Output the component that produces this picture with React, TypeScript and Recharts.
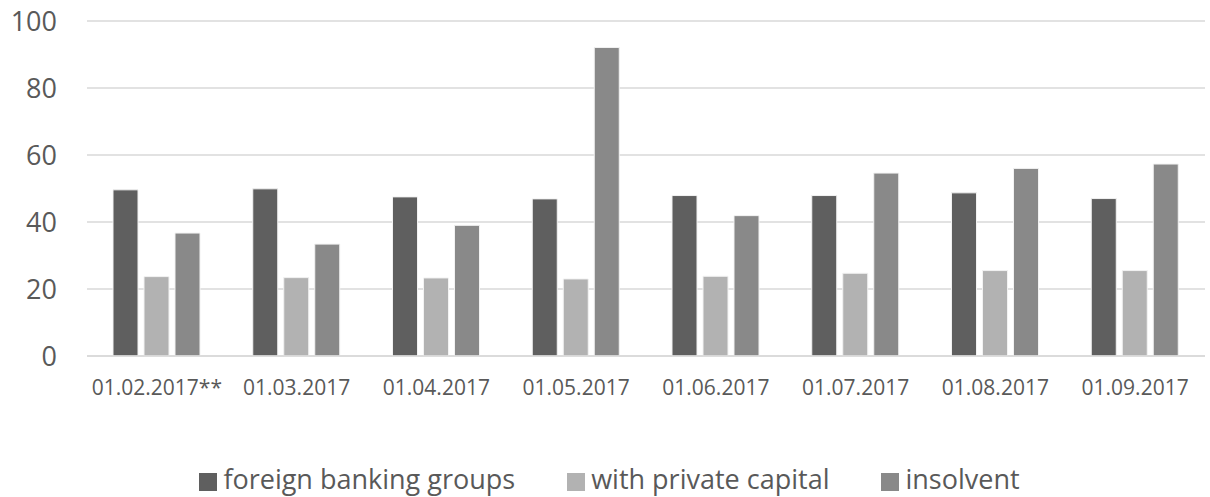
import { BarChart, Bar, XAxis, YAxis, CartesianGrid, Legend } from "recharts";

const dates = [
  "01.02.2017**",
  "01.03.2017",
  "01.04.2017",
  "01.05.2017",
  "01.06.2017",
  "01.07.2017",
  "01.08.2017",
  "01.09.2017",
];
const foreignGroups = [49.6, 49.9, 47.5, 46.9, 47.9, 47.9, 48.7, 47.0];
const privateCapital = [23.7, 23.4, 23.3, 23.0, 23.8, 24.7, 25.5, 25.5];
const insolvent = [36.7, 33.4, 39.0, 92.1, 41.9, 54.6, 56.0, 57.3];
const yTicks = [0, 20, 40, 60, 80, 100];

const series = [
  { key: "foreign", name: "foreign banking groups", color: "#5f5f5f" },
  { key: "private", name: "with private capital", color: "#b2b2b2" },
  { key: "insolvent", name: "insolvent", color: "#898989" },
];

const data = dates.map((d, i) => ({
  date: d,
  foreign: foreignGroups[i],
  private: privateCapital[i],
  insolvent: insolvent[i],
}));

const FONT = "'Open Sans', sans-serif";
const TEXT = "#595959";

function LegendBox() {
  return (
    <div
      style={{
        display: "flex",
        justifyContent: "center",
        alignItems: "center",
        height: 37,
        fontFamily: FONT,
        fontSize: 27,
        color: TEXT,
        paddingLeft: 14,
      }}
    >
      {series.map((s, i) => (
        <div
          key={s.key}
          style={{
            display: "flex",
            alignItems: "center",
            marginRight: i < series.length - 1 ? 52 : 0,
          }}
        >
          <span
            style={{
              display: "inline-block",
              width: 18,
              height: 18,
              background: s.color,
              marginRight: 6,
              marginTop: 6,
            }}
          />
          <span>{s.name}</span>
        </div>
      ))}
    </div>
  );
}

export default function App() {
  return (
    <div style={{ position: "absolute", left: 0, top: 0, background: "#fff" }}>
      <BarChart
        width={1210}
        height={497}
        data={data}
        margin={{ top: 21, right: 5, bottom: 0, left: 0 }}
        barSize={25}
        barGap={6}
      >
        <CartesianGrid vertical={false} stroke="#d9d9d9" strokeWidth={1.5} />
        <XAxis
          dataKey="date"
          height={104}
          tickLine={false}
          axisLine={{ stroke: "#d9d9d9", strokeWidth: 1.5 }}
          tickMargin={18}
          interval={0}
          tick={{ fill: TEXT, fontSize: 21, fontFamily: FONT }}
        />
        <YAxis
          width={87}
          domain={[0, 100]}
          ticks={yTicks}
          tickLine={false}
          axisLine={false}
          tickMargin={24}
          tick={{ fill: TEXT, fontSize: 27, fontFamily: FONT }}
        />
        <Legend verticalAlign="bottom" content={() => <LegendBox />} />
        {series.map((s) => (
          <Bar
            key={s.key}
            dataKey={s.key}
            name={s.name}
            fill={s.color}
            stroke="#f2f2f2"
            strokeWidth={1}
            isAnimationActive={false}
          />
        ))}
      </BarChart>
    </div>
  );
}
